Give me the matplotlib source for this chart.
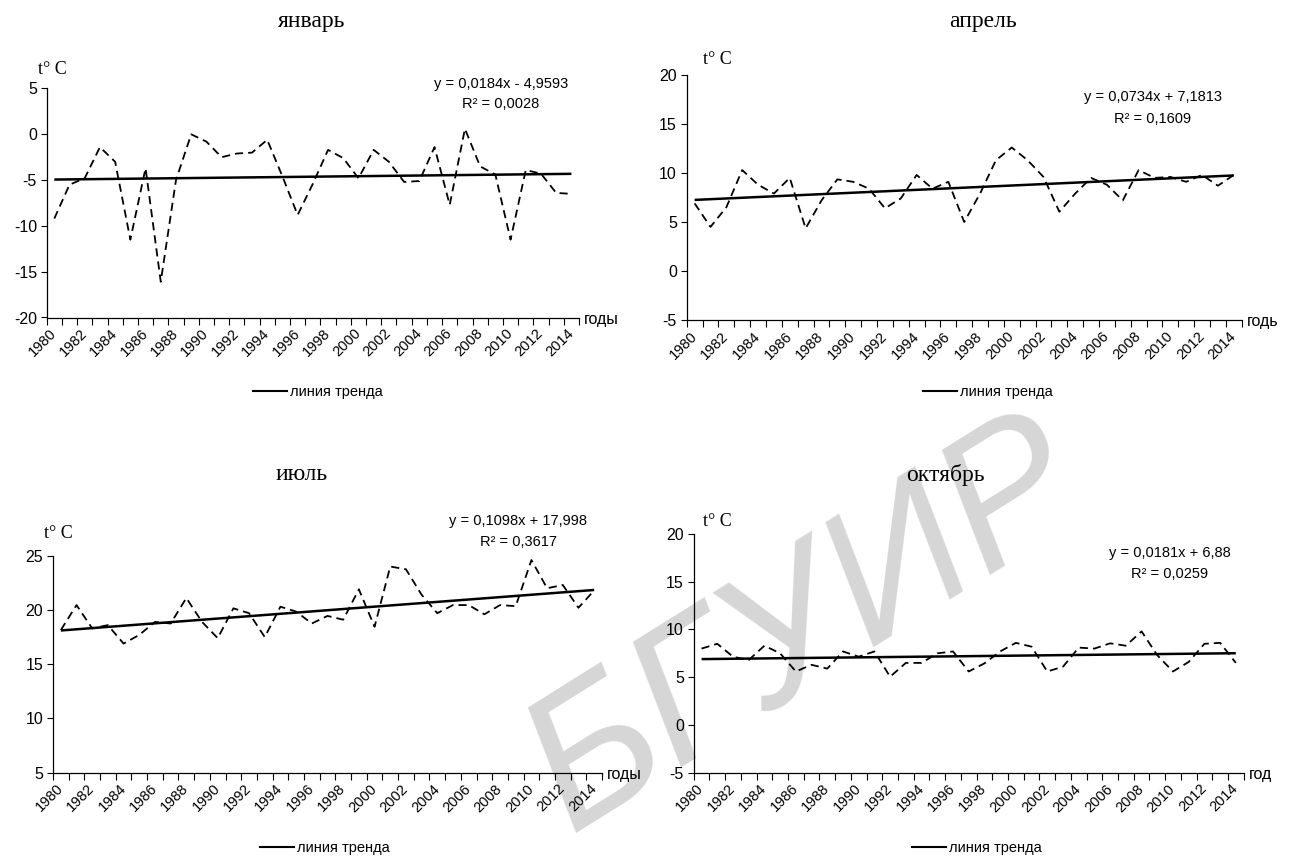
import numpy as np
import matplotlib
matplotlib.use("Agg")
import matplotlib.pyplot as plt
from matplotlib.lines import Line2D

plt.rcParams["axes.unicode_minus"] = False

W, H = 1305, 865

years = list(range(1980, 2015))
year_labels = [str(y) if (y - 1980) % 2 == 0 else "" for y in years]

jan = [-9.2, -5.5, -4.8, -1.4, -3.0, -11.5, -3.7, -16.1, -5.0, 0.0,
       -0.8, -2.5, -2.1, -2.0, -0.6, -4.6, -8.8, -5.4, -1.7, -2.6,
       -4.8, -1.7, -3.0, -5.2, -5.1, -1.4, -7.7, 0.6, -3.5, -4.4,
       -11.5, -3.9, -4.3, -6.4, -6.5]
apr = [6.9, 4.5, 6.5, 10.3, 8.8, 7.9, 9.5, 4.35, 7.2, 9.35,
       9.1, 8.4, 6.4, 7.4, 9.8, 8.4, 9.1, 5.0, 7.9, 11.3,
       12.6, 11.3, 9.6, 6.05, 7.9, 9.5, 8.8, 7.2, 10.3, 9.5,
       9.6, 9.1, 9.8, 8.7, 9.8]
jul = [18.15, 20.45, 18.3, 18.6, 16.9, 17.7, 18.9, 18.75, 21.1, 18.9,
       17.4, 20.15, 19.7, 17.5, 20.3, 19.85, 18.75, 19.45, 19.1, 21.9,
       18.45, 24.0, 23.75, 21.4, 19.7, 20.45, 20.45, 19.6, 20.45, 20.35,
       24.6, 22.0, 22.3, 20.2, 21.8]
octo = [8.0, 8.5, 7.15, 6.8, 8.3, 7.5, 5.6, 6.3, 5.9, 7.7,
        7.15, 7.7, 5.05, 6.5, 6.5, 7.5, 7.7, 5.6, 6.45, 7.7,
        8.6, 8.2, 5.6, 6.1, 8.1, 8.0, 8.55, 8.3, 9.8, 7.3,
        5.6, 6.6, 8.5, 8.6, 6.5]

titles = ["январь", "апрель", "июль", "октябрь"]
series = [jan, apr, jul, octo]
slopes = [0.0184, 0.0734, 0.1098, 0.0181]
intercepts = [-4.9593, 7.1813, 17.998, 6.88]
eq_texts = ["y = 0,0184x - 4,9593", "y = 0,0734x + 7,1813",
            "y = 0,1098x + 17,998", "y = 0,0181x + 6,88"]
r2_texts = ["R² = 0,0028", "R² = 0,1609", "R² = 0,3617", "R² = 0,0259"]
x_axis_names = ["годы", "годь", "годы", "год"]
ylims = [(-20, 5), (-5, 20), (5, 25), (-5, 20)]
legend_label = "линия тренда"
watermark = "БГУИР"

SANS = ["Liberation Sans Narrow", "Liberation Sans", "DejaVu Sans"]
SERIF = ["Liberation Serif", "DejaVu Serif"]

# layout in pixels: (left, right, top, bottom)
boxes = [(46.7, 579, 88.5, 317.5), (686.7, 1241.7, 75, 320),
         (53, 602, 555.7, 772.7), (693.7, 1243.7, 534, 772.7)]
title_pos = [(312, 22), (983, 22), (302, 475), (945, 475)]
tc_pos = [(52, 70), (717, 60), (58, 533), (717, 522)]
eq_pos = [(501, 84), (1153, 97), (518, 521), (1170, 553)]
r2_pos = [(501, 104), (1153, 119), (518, 542), (1170, 574)]
leg_pos = [(318, 392), (988, 392), (325, 848), (977, 848)]


def px(x, y):
    return x / W, 1 - y / H


fig = plt.figure(figsize=(W / 100, H / 100), dpi=100)
fig.patch.set_facecolor("white")

# watermark
fig.text(*px(805, 628), watermark, rotation=32, fontsize=138, style="italic",
         color="#d6d6d6", ha="center", va="center",
         family=["Liberation Sans", "DejaVu Sans"], zorder=-1)

for k in range(4):
    l, r, t, b = boxes[k]
    ax = fig.add_axes([l / W, 1 - b / H, (r - l) / W, (b - t) / H])
    ax.set_facecolor("none")
    x = np.arange(len(years))
    ax.plot(x, series[k], color="black", lw=1.3, dashes=[4.5, 2.8])
    xs = np.arange(1, len(years) + 1)
    trend = slopes[k] * xs + intercepts[k]
    ax.plot(x, trend, color="black", lw=1.8, solid_capstyle="butt")

    ax.set_xlim(-0.5, len(years) - 0.5)
    ax.set_ylim(*ylims[k])
    ax.set_yticks(np.arange(ylims[k][0], ylims[k][1] + 1, 5))
    for s in ["top", "right"]:
        ax.spines[s].set_visible(False)
    for s in ["left", "bottom"]:
        ax.spines[s].set_linewidth(0.9)
        ax.spines[s].set_color("black")
    ax.set_xticks(x)
    ax.set_xticklabels(year_labels)
    ax.set_xticks(np.arange(-0.5, len(years), 1), minor=True)
    ax.tick_params(axis="x", which="major", length=0, pad=10)
    ax.tick_params(axis="x", which="minor", length=5, width=0.8, direction="out")
    ax.tick_params(axis="y", length=4, width=0.8, direction="out", pad=3)
    for lab in ax.get_xticklabels():
        lab.set_rotation(45)
        lab.set_rotation_mode("anchor")
        lab.set_ha("right")
        lab.set_va("center")
        lab.set_fontsize(10.5)
        lab.set_family(SANS)
    for lab in ax.get_yticklabels():
        lab.set_fontsize(11.5)
        lab.set_family(SANS)

    fig.text(*px(r + 5, b + 2), x_axis_names[k], fontsize=11.5, family=SANS,
             ha="left", va="center")
    fig.text(*px(*title_pos[k]), titles[k], fontsize=17, family=SERIF,
             ha="center", va="center")
    fig.text(*px(*tc_pos[k]), "t° C", fontsize=13, family=SERIF,
             ha="center", va="center")
    fig.text(*px(*eq_pos[k]), eq_texts[k], fontsize=10.5, family=SANS,
             ha="center", va="center")
    fig.text(*px(*r2_pos[k]), r2_texts[k], fontsize=10.5, family=SANS,
             ha="center", va="center")
    handle = Line2D([0], [0], color="black", lw=1.5)
    fig.legend(handles=[handle], labels=[legend_label], loc="center",
               bbox_to_anchor=px(*leg_pos[k]), frameon=False,
               handlelength=2.3, handletextpad=0.2,
               prop={"family": SANS, "size": 10.5})

fig.savefig("out.png", dpi=100)
